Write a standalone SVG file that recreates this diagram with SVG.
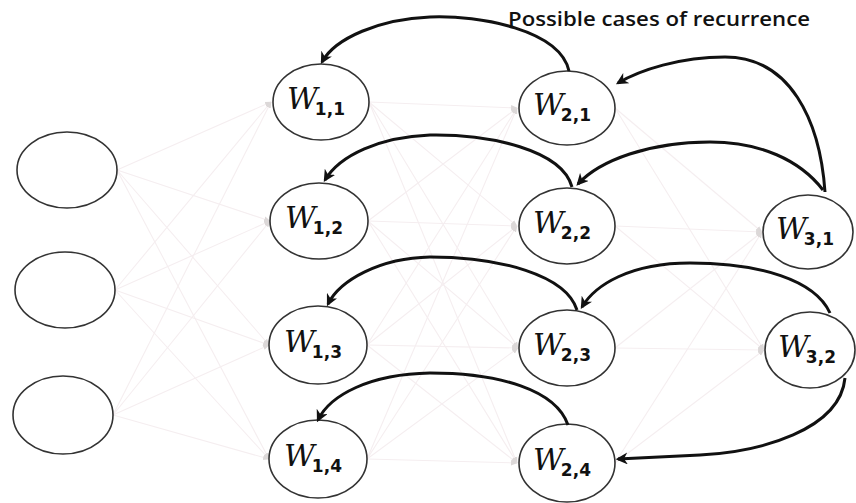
<svg xmlns="http://www.w3.org/2000/svg" width="856" height="503" viewBox="0 0 856 503">
<defs>
<marker id="ah" viewBox="0 0 10 10" refX="8" refY="5" markerWidth="4" markerHeight="4" orient="auto" markerUnits="strokeWidth">
<path d="M0,0 L10,5 L0,10 L3,5 z" fill="#111"/>
</marker>
<marker id="fa" viewBox="0 0 10 10" refX="9" refY="5" markerWidth="6" markerHeight="6" orient="auto" markerUnits="strokeWidth">
<path d="M0,1 L10,5 L0,9 z" fill="#dcd8d8"/>
</marker>
</defs>
<style>
.n{fill:#fff;stroke:#333;stroke-width:1.6}
.w{font-family:"DejaVu Serif",serif;font-style:italic;font-size:30px;fill:#111}
.s{font-family:"DejaVu Sans",sans-serif;font-weight:bold;font-size:17px;fill:#111}
.f{fill:none;stroke:#f5eef0;stroke-width:1.1;marker-end:url(#fa)}
.d{fill:none;stroke:#111;stroke-width:3;marker-end:url(#ah)}
.t{font-family:"Open Sans",sans-serif;font-weight:600;font-size:19px;fill:#111}
</style>
<rect width="856" height="503" fill="#fff"/>
<g id="faint">
<path class="f" d="M117,170 L271,102"/><path class="f" d="M117,170 L270,221"/><path class="f" d="M117,170 L269,345"/><path class="f" d="M117,170 L269,459"/>
<path class="f" d="M115,290 L271,102"/><path class="f" d="M115,290 L270,221"/><path class="f" d="M115,290 L269,345"/><path class="f" d="M115,290 L269,459"/>
<path class="f" d="M113,415 L271,102"/><path class="f" d="M113,415 L270,221"/><path class="f" d="M113,415 L269,345"/><path class="f" d="M113,415 L269,459"/>
<path class="f" d="M369,102 L517,108"/><path class="f" d="M369,102 L517,226"/><path class="f" d="M369,102 L518,348"/><path class="f" d="M369,102 L517,463"/>
<path class="f" d="M368,221 L517,108"/><path class="f" d="M368,221 L517,226"/><path class="f" d="M368,221 L518,348"/><path class="f" d="M368,221 L517,463"/>
<path class="f" d="M367,345 L517,108"/><path class="f" d="M367,345 L517,226"/><path class="f" d="M367,345 L518,348"/><path class="f" d="M367,345 L517,463"/>
<path class="f" d="M367,459 L517,108"/><path class="f" d="M367,459 L517,226"/><path class="f" d="M367,459 L518,348"/><path class="f" d="M367,459 L517,463"/>
<path class="f" d="M615,108 L762,232"/><path class="f" d="M615,108 L764,350"/>
<path class="f" d="M615,226 L762,232"/><path class="f" d="M615,226 L764,350"/>
<path class="f" d="M615,348 L762,232"/><path class="f" d="M615,348 L764,350"/>
<path class="f" d="M615,463 L762,232"/><path class="f" d="M615,463 L764,350"/>
</g>
<g id="in1"><ellipse class="n" cx="67" cy="170" rx="50" ry="38"/></g>
<g id="in2"><ellipse class="n" cx="65" cy="290" rx="50" ry="38"/></g>
<g id="in3"><ellipse class="n" cx="63" cy="415" rx="50" ry="39"/></g>
<g id="w11"><ellipse class="n" cx="321" cy="102" rx="48" ry="38"/><text x="287" y="109"><tspan class="w">W</tspan><tspan class="s" dx="-3" dy="6">1,1</tspan></text></g>
<g id="w12"><ellipse class="n" cx="319" cy="221" rx="49" ry="38"/><text x="285" y="228"><tspan class="w">W</tspan><tspan class="s" dx="-3" dy="6">1,2</tspan></text></g>
<g id="w13"><ellipse class="n" cx="318" cy="345" rx="49" ry="39"/><text x="284" y="352"><tspan class="w">W</tspan><tspan class="s" dx="-3" dy="6">1,3</tspan></text></g>
<g id="w14"><ellipse class="n" cx="318" cy="459" rx="49" ry="39"/><text x="284" y="466"><tspan class="w">W</tspan><tspan class="s" dx="-3" dy="6">1,4</tspan></text></g>
<g id="w21"><ellipse class="n" cx="567" cy="108" rx="48" ry="37"/><text x="533" y="115"><tspan class="w">W</tspan><tspan class="s" dx="-3" dy="6">2,1</tspan></text></g>
<g id="w22"><ellipse class="n" cx="567" cy="226" rx="48" ry="38"/><text x="533" y="233"><tspan class="w">W</tspan><tspan class="s" dx="-3" dy="6">2,2</tspan></text></g>
<g id="w23"><ellipse class="n" cx="567" cy="348" rx="48" ry="38"/><text x="533" y="355"><tspan class="w">W</tspan><tspan class="s" dx="-3" dy="6">2,3</tspan></text></g>
<g id="w24"><ellipse class="n" cx="567" cy="463" rx="48" ry="39"/><text x="533" y="470"><tspan class="w">W</tspan><tspan class="s" dx="-3" dy="6">2,4</tspan></text></g>
<g id="w31"><ellipse class="n" cx="808" cy="232" rx="45" ry="37"/><text x="776" y="239"><tspan class="w">W</tspan><tspan class="s" dx="-3" dy="6">3,1</tspan></text></g>
<g id="w32"><ellipse class="n" cx="810" cy="350" rx="45" ry="38"/><text x="778" y="357"><tspan class="w">W</tspan><tspan class="s" dx="-3" dy="6">3,2</tspan></text></g>
<g id="recurrence">
<path class="d" d="M569,71 C560,30 480,15 430,17 C380,19 335,38 322,62"/>
<path class="d" d="M825,192 C820,120 790,57 725,57 C680,57 640,70 618,83"/>
<path class="d" d="M823,190 C800,160 760,142 710,142 C650,142 600,160 578,184"/>
<path class="d" d="M572,187 C562,150 490,134 430,135 C380,137 340,155 325,180"/>
<path class="d" d="M577,310 C566,275 500,257 430,257 C380,258 340,280 328,304"/>
<path class="d" d="M830,313 C815,280 760,263 690,263 C630,263 595,285 582,307"/>
<path class="d" d="M568,425 C556,390 500,373 430,373 C370,374 330,395 318,420"/>
<path class="d" d="M845,378 C840,430 760,452 700,455 C660,457 635,458 618,459"/>
</g>
<text class="t" x="508" y="26" textLength="302" lengthAdjust="spacingAndGlyphs">Possible cases of recurrence</text>
</svg>
